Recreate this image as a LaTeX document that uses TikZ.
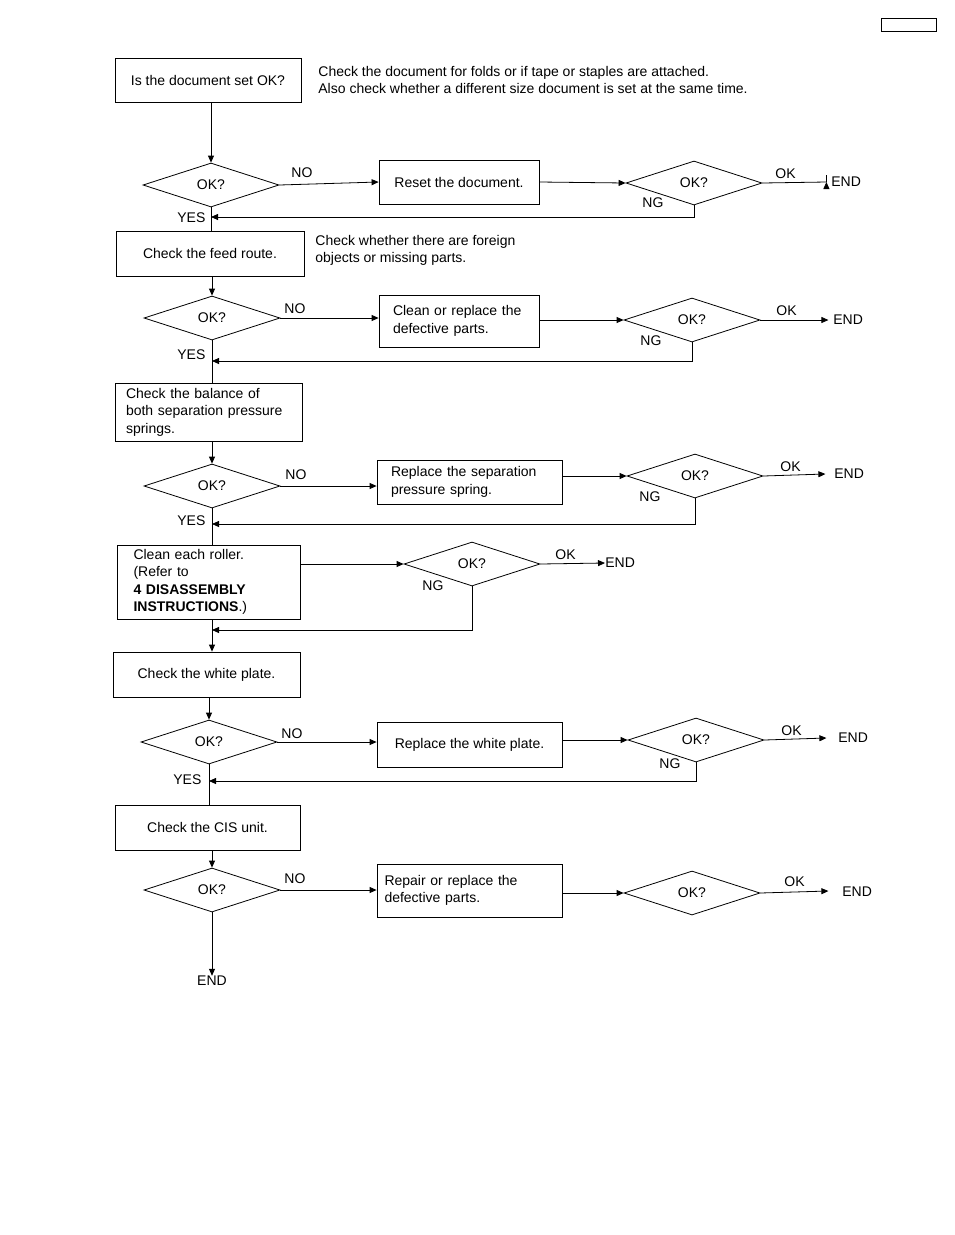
\documentclass[tikz,border=0pt]{standalone}
\usepackage{fontspec}
\setmainfont{Liberation Sans}
\usetikzlibrary{shapes.geometric,arrows.meta}
\begin{document}
\begin{tikzpicture}[x=1pt,y=-1pt,font=\fontsize{14}{17.5}\selectfont,
 line width=0.8pt,
 box/.style={draw,rectangle,inner sep=0pt,align=center},
 lbox/.style={draw,rectangle,inner sep=0pt,align=left},
 dia/.style={draw,diamond,inner sep=0pt,minimum width=136pt,minimum height=44pt,shape aspect=3.1},
 txt/.style={inner sep=0pt,anchor=west,align=left},
 arr/.style={-{Triangle[length=7pt,width=6pt]}}]
\useasboundingbox (0,0) rectangle (954,1235);
\node[draw,minimum width=55pt,minimum height=13pt,inner sep=0pt] (hdr) at (908.5,24.5) {};
% row 1
\node[box,minimum width=186pt,minimum height=44pt] (b1) at (208,80) {Is the document set OK?};
\node[txt] (n1) at (318,80) {Check the document for folds or if tape or staples are attached.\\Also check whether a different size document is set at the same time.};
\node[dia] (d1) at (211,185) {OK?};
\node[box,minimum width=160pt,minimum height=44pt] (r1) at (459,182) {Reset the document.};
\node[dia] (c1) at (694,183) {OK?};
\node[txt] (e1) at (831,182) {END};
\node[txt] at (291,173) {NO};
\node[txt] at (775,174) {OK};
\node[txt] at (642,203) {NG};
\node[txt] at (177,218) {YES};
\coordinate (j1) at (211,217);
% row 2
\node[box,minimum width=188pt,minimum height=45pt] (b2) at (210,253.5) {Check the feed route.};
\node[txt] (n2) at (315,250.5) {Check whether there are foreign\\objects or missing parts.};
\node[dia] (d2) at (212,318) {OK?};
\node[lbox,minimum width=160pt,minimum height=52pt,text width=132pt] (r2) at (459,321) {Clean or replace the\\defective parts.};
\node[dia] (c2) at (692,320) {OK?};
\node[txt] (e2) at (833,320) {END};
\node[txt] at (284,309) {NO};
\node[txt] at (776,311) {OK};
\node[txt] at (640,341) {NG};
\node[txt] at (177,355) {YES};
\coordinate (j2) at (212,361);
% row 3
\node[lbox,minimum width=187pt,minimum height=58pt,text width=165pt] (b3) at (208.5,412) {Check the balance of\\both separation pressure\\springs.};
\node[dia] (d3) at (212,486) {OK?};
\node[lbox,minimum width=185pt,minimum height=44pt,text width=157pt] (r3) at (469.5,482) {Replace the separation\\pressure spring.};
\node[dia] (c3) at (695,476) {OK?};
\node[txt] (e3) at (834,474) {END};
\node[txt] at (285,475) {NO};
\node[txt] at (780,467) {OK};
\node[txt] at (639,497) {NG};
\node[txt] at (177,521) {YES};
\coordinate (j3) at (212,524);
% row 4
\node[lbox,minimum width=183pt,minimum height=74pt,text width=150pt] (b4) at (208.5,582) {Clean each roller.\\(Refer to\\\textbf{4 DISASSEMBLY}\\\textbf{INSTRUCTIONS}.)};
\node[dia] (c4) at (472,564) {OK?};
\node[txt] (e4) at (605,563) {END};
\node[txt] at (555,555) {OK};
\node[txt] at (422,586) {NG};
\coordinate (j4) at (212,630);
% row 5
\node[box,minimum width=187pt,minimum height=45pt] (b5) at (206.5,674.5) {Check the white plate.};
\node[dia] (d5) at (209,742) {OK?};
\node[box,minimum width=185pt,minimum height=45pt] (r5) at (469.5,744.5) {Replace the white plate.};
\node[dia] (c5) at (696,740) {OK?};
\node[txt] (e5) at (838,738) {END};
\node[txt] at (281,734) {NO};
\node[txt] at (781,731) {OK};
\node[txt] at (659,764) {NG};
\node[txt] at (173,780) {YES};
\coordinate (j5) at (209,781);
% row 6
\node[box,minimum width=185pt,minimum height=45pt] (b6) at (207.5,827.5) {Check the CIS unit.};
\node[dia] (d6) at (212,890) {OK?};
\node[lbox,minimum width=185pt,minimum height=53pt,text width=170pt] (r6) at (469.5,890.5) {Repair or replace the\\defective parts.};
\node[dia] (c6) at (692,893) {OK?};
\node[txt] (e6) at (842,892) {END};
\node[txt] at (284,879) {NO};
\node[txt] at (784,882) {OK};
\node[inner sep=0pt] (e7) at (212,981) {END};
% connectors
\draw[arr] (b1.south -| d1.north) -- (d1.north);
\draw[arr] (d1.east) -- (r1.west);
\draw[arr] (r1.east) -- (c1.west);
\draw[arr] (c1.east) -- ++(64,-1) coordinate (t1) -- (t1);
\draw (d1.south) -- (b2.north -| d1.south);
\draw[arr] (c1.south) |- (j1);
\draw[arr] (b2.south -| d2.north) -- (d2.north);
\draw[arr] (d2.east) -- (r2.west |- d2.east);
\draw[arr] (r2.east |- c2.west) -- (c2.west);
\draw[arr] (c2.east) -- ++(68,0);
\draw (d2.south) -- (b3.north -| d2.south);
\draw[arr] (c2.south) |- (j2);
\draw[arr] (b3.south -| d3.north) -- (d3.north);
\draw[arr] (d3.east) -- (r3.west |- d3.east);
\draw[arr] (r3.east |- c3.west) -- (c3.west);
\draw[arr] (c3.east) -- ++(62,-2);
\draw (d3.south) -- (b4.north -| d3.south);
\draw[arr] (c3.south) |- (j3);
\draw[arr] (b4.east |- c4.west) -- (c4.west);
\draw[arr] (c4.east) -- (e4.west);
\draw[arr] (c4.south) |- (j4);
\draw[arr] (b4.south -| j4) -- (b5.north -| j4);
\draw[arr] (b5.south -| d5.north) -- (d5.north);
\draw[arr] (d5.east) -- (r5.west |- d5.east);
\draw[arr] (r5.east |- c5.west) -- (c5.west);
\draw[arr] (c5.east) -- ++(62,-2);
\draw (d5.south) -- (b6.north -| d5.south);
\draw[arr] (c5.south) |- (j5);
\draw[arr] (b6.south -| d6.north) -- (d6.north);
\draw[arr] (d6.east) -- (r6.west |- d6.east);
\draw[arr] (r6.east |- c6.west) -- (c6.west);
\draw[arr] (c6.east) -- ++(68,-2);
\draw[arr] (d6.south) -- (e7.north);
\end{tikzpicture}
\end{document}
